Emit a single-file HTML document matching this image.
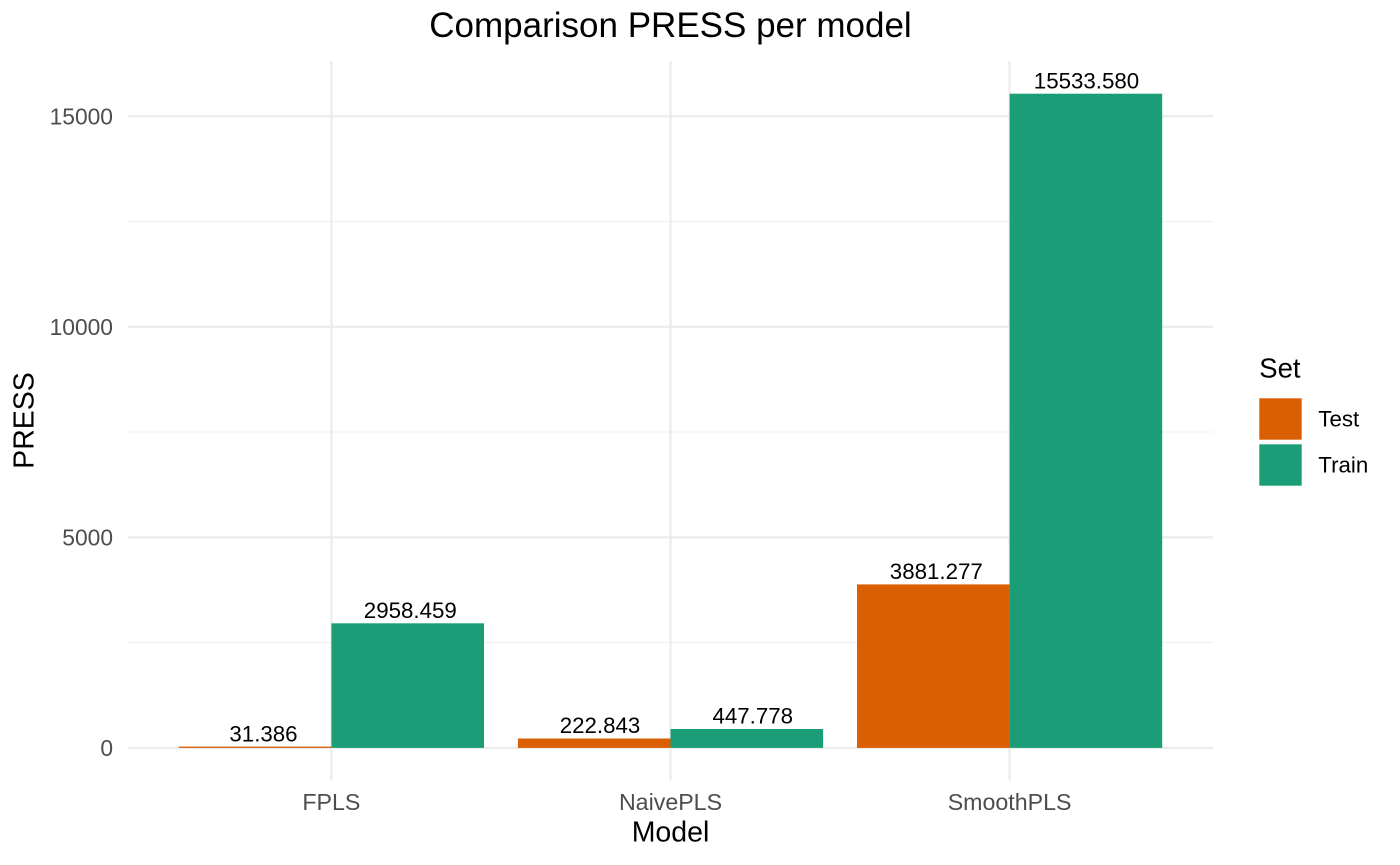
<!DOCTYPE html>
<html><head><meta charset="utf-8"><style>html,body{margin:0;padding:0;background:#fff}svg{display:block}</style></head>
<body>
<svg width="1400" height="865" viewBox="0 0 1400 865" xmlns="http://www.w3.org/2000/svg" font-family="'Liberation Sans', Arial, sans-serif">
<rect width="1400" height="865" fill="#fff"/>
<!-- minor gridlines -->
<g stroke="#f0f0f0" stroke-width="1.1">
<line x1="128" x2="1213" y1="642.6" y2="642.6"/>
<line x1="128" x2="1213" y1="432.0" y2="432.0"/>
<line x1="128" x2="1213" y1="221.4" y2="221.4"/>
</g>
<!-- major gridlines -->
<g stroke="#ebebeb" stroke-width="2.1">
<line x1="128" x2="1213" y1="747.9" y2="747.9"/>
<line x1="128" x2="1213" y1="537.3" y2="537.3"/>
<line x1="128" x2="1213" y1="326.8" y2="326.8"/>
<line x1="128" x2="1213" y1="116.2" y2="116.2"/>
<line x1="331.4" x2="331.4" y1="61" y2="780.6"/>
<line x1="670.5" x2="670.5" y1="61" y2="780.6"/>
<line x1="1009.6" x2="1009.6" y1="61" y2="780.6"/>
</g>
<!-- bars -->
<g>
<rect x="178.8" y="746.6" width="152.6" height="1.3" fill="#D95F02"/>
<rect x="331.4" y="623.3" width="152.6" height="124.6" fill="#1B9E77"/>
<rect x="517.9" y="738.5" width="152.6" height="9.4" fill="#D95F02"/>
<rect x="670.5" y="729.0" width="152.6" height="18.9" fill="#1B9E77"/>
<rect x="857.0" y="584.4" width="152.6" height="163.5" fill="#D95F02"/>
<rect x="1009.6" y="93.7" width="152.6" height="654.2" fill="#1B9E77"/>
</g>
<!-- bar labels -->
<g font-size="22.3" fill="#000" text-anchor="middle">
<text x="263.5" y="741.3">31.386</text>
<text x="410.3" y="618.0">2958.459</text>
<text x="600.0" y="733.2">222.843</text>
<text x="752.8" y="723.7">447.778</text>
<text x="936.3" y="579.1">3881.277</text>
<text x="1086.5" y="88.4">15533.580</text>
</g>
<!-- y tick labels -->
<g font-size="22.8" fill="#4d4d4d" text-anchor="end">
<text x="113" y="756.1">0</text>
<text x="113" y="545.5">5000</text>
<text x="113" y="335.0">10000</text>
<text x="113" y="124.4">15000</text>
</g>
<!-- x tick labels -->
<g font-size="23.2" fill="#4d4d4d" text-anchor="middle">
<text x="331.4" y="810">FPLS</text>
<text x="670.5" y="810">NaivePLS</text>
<text x="1009.6" y="810">SmoothPLS</text>
</g>
<!-- axis titles -->
<text x="670.5" y="841.7" font-size="28.5" text-anchor="middle" fill="#000">Model</text>
<text transform="translate(33.5,420.5) rotate(-90)" font-size="28.5" text-anchor="middle" fill="#000">PRESS</text>
<!-- title -->
<text x="670.5" y="37" font-size="35" text-anchor="middle" fill="#000">Comparison PRESS per model</text>
<!-- legend -->
<text x="1259.3" y="377.3" font-size="27.5" fill="#000">Set</text>
<rect x="1259.3" y="398.3" width="42.4" height="41.4" fill="#D95F02"/>
<rect x="1259.3" y="444.3" width="42.4" height="41.4" fill="#1B9E77"/>
<text x="1318.3" y="426.5" font-size="22.3" fill="#000">Test</text>
<text x="1318.3" y="472.5" font-size="22.3" fill="#000">Train</text>
</svg>
</body></html>
